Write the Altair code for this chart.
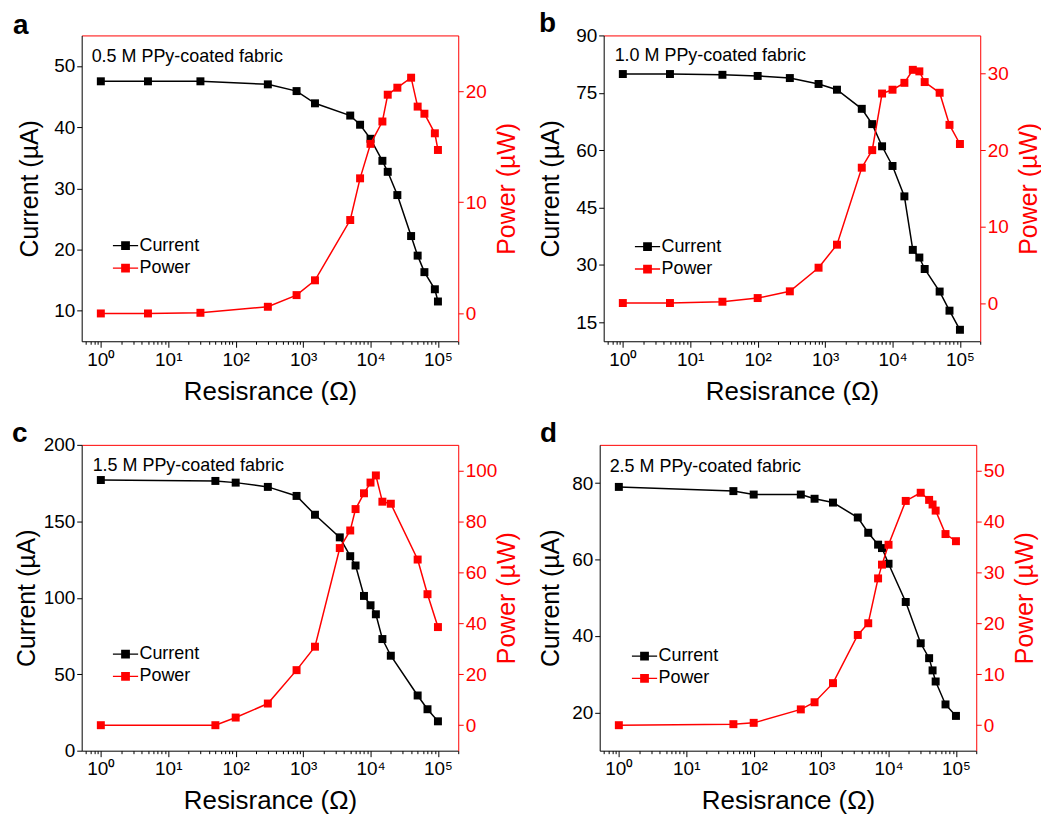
import altair as alt
import pandas as pd

RED = "#ff0000"
FONT = "Liberation Sans"
SERIES = ["Current", "Power"]
COLORS = ["#000000", RED]
X_DOMAIN = [0.52, 200000]

# ---------------- data ----------------
res_a = [1, 5, 30, 300, 800, 1500, 5000, 7000, 10000, 15000, 18000, 25000, 40000, 50000, 63000, 90000, 100000]
cur_a = [47.5, 47.5, 47.5, 47.0, 45.9, 43.9, 41.9, 40.4, 38.1, 34.5, 32.7, 28.9, 22.2, 19.0, 16.3, 13.5, 11.5]
pow_a = [0.0, 0.0, 0.06, 0.6, 1.65, 2.98, 8.4, 12.15, 15.25, 17.26, 19.67, 20.3, 21.2, 18.6, 17.96, 16.2, 14.7]

res_b = [1, 5, 30, 100, 300, 800, 1500, 3500, 5000, 7000, 10000, 15000, 20000, 25000, 30000, 50000, 70000, 100000]
cur_b = [79.9, 79.9, 79.7, 79.4, 78.85, 77.3, 75.8, 70.8, 66.8, 61.0, 55.85, 47.9, 33.9, 31.9, 28.9, 23.0, 18.0, 13.0]
pow_b = [0.0, 0.0, 0.17, 0.65, 1.53, 4.62, 7.63, 17.7, 20.0, 27.4, 27.9, 28.8, 30.5, 30.3, 28.9, 27.5, 23.3, 20.8]

res_c = [1, 50, 100, 300, 800, 1500, 3500, 5000, 6000, 8000, 10000, 12000, 15000, 20000, 50000, 70000, 100000]
cur_c = [177.0, 176.4, 175.3, 172.5, 166.6, 154.3, 139.5, 127.2, 121.1, 101.2, 95.1, 89.2, 73.0, 62.1, 36.1, 27.1, 19.2]
pow_c = [0.0, 0.0, 3.0, 8.5, 21.6, 30.8, 69.5, 76.4, 84.8, 91.0, 95.2, 98.0, 87.7, 86.9, 65.0, 51.4, 38.5]

res_d = [1, 50, 100, 500, 800, 1500, 3500, 5000, 7000, 8000, 10000, 18000, 30000, 40000, 45000, 50000, 70000, 100000]
cur_d = [79.0, 77.9, 77.0, 77.0, 75.9, 74.9, 71.0, 67.0, 63.9, 63.0, 58.9, 48.9, 38.1, 34.2, 31.0, 28.1, 22.1, 19.1]
pow_d = [0.0, 0.2, 0.46, 3.1, 4.5, 8.25, 17.7, 20.0, 28.8, 31.5, 35.4, 44.0, 45.6, 44.2, 43.3, 42.1, 37.5, 36.1]

panel_letters = ["a", "b", "c", "d"]
panel_labels = ["0.5 M PPy-coated fabric", "1.0 M PPy-coated fabric",
                "1.5 M PPy-coated fabric", "2.5 M PPy-coated fabric"]

cur_domains = [[5, 55], [10, 90], [0, 200], [10, 90]]
cur_ticks = [[10, 20, 30, 40, 50], [15, 30, 45, 60, 75, 90], [0, 50, 100, 150, 200], [20, 40, 60, 80]]
pow_domains = [[-2.5, 25], [-5, 35], [-10, 110], [-5, 55]]
pow_ticks = [[0, 10, 20], [0, 10, 20, 30], [0, 20, 40, 60, 80, 100], [0, 10, 20, 30, 40, 50]]

x_major = [1, 10, 100, 1000, 10000, 100000]
x_minor = [m * 10 ** k for k in range(-1, 6) for m in range(2, 10)]
x_ticks = sorted([v for v in x_major + x_minor if X_DOMAIN[0] <= v <= X_DOMAIN[1]])

W, H = 378, 307

# layout tweaks per panel: (letter x, letter y, ytitle x, legend x, legend y, label x, label y)
lay = [
    (-69, -1, -52, 33, 200, 10, 22),
    (-65, -3, -53, 33, 201, 11, 21),
    (-70, -3, -55, 33, 199, 11, 21),
    (-60, -3, -49, 34, 201, 10, 22),
]

SYMBOL = ("M-1.15,-0.06H-0.4V0.06H-1.15Z "
          "M0.4,-0.06H1.15V0.06H0.4Z "
          "M-0.4,-0.4H0.4V0.4H-0.4Z")

is_major = "abs(log(datum.value)/LN10 - round(log(datum.value)/LN10)) < 0.001"
label_expr = (is_major + " ? '10' + ['⁰','¹','²','³','⁴','⁵'][round(log(datum.value)/LN10)] : ''")


def panel(i, R, I, P):
    lx, ly, ytx, lgx, lgy, tx, ty = lay[i]
    df = pd.DataFrame({"R": R, "Current": I, "Power": P})
    long = df.melt("R", var_name="series", value_name="v")

    xs = alt.Scale(type="log", domain=X_DOMAIN, nice=False)
    bottom_axis = alt.Axis(
        orient="bottom", values=x_ticks, labelExpr=label_expr, labelOverlap=False,
        labelFlush=False, labelPadding=3, labelFontSize=19,
        tickSize={"condition": {"test": is_major, "value": 6}, "value": 3},
        title="Resisrance (Ω)", titleFontSize=26, titleY=50, titleBaseline="middle",
        domainColor="black", tickColor="black", labelColor="black",
    )
    top_axis = alt.Axis(orient="top", labels=False, ticks=False, title=None,
                        domainColor=RED)
    left_axis = alt.Axis(orient="left", values=cur_ticks[i], tickSize=5,
                         title="Current (µA)", titleX=ytx, titleY=H / 2,
                         titleAngle=270, titleBaseline="middle",
                         domainColor="black", tickColor="black", labelColor="black",
                         titleColor="black")
    right_axis = alt.Axis(orient="right", values=pow_ticks[i], tickSize=5,
                          title="Power (µW)", titleX=48, titleY=H / 2,
                          titleAngle=270, titleBaseline="middle",
                          domainColor=RED, tickColor=RED, labelColor=RED,
                          titleColor=RED)

    legend = alt.Legend(orient="none", legendX=lgx, legendY=lgy, title=None,
                        symbolType=SYMBOL, symbolSize=484, symbolStrokeWidth=0,
                        labelFontSize=18, labelOffset=3, rowPadding=2.5, padding=0)
    fill = alt.Fill("series:N", scale=alt.Scale(domain=SERIES, range=COLORS), legend=legend)
    stroke = alt.Stroke("series:N", scale=alt.Scale(domain=SERIES, range=COLORS), legend=legend)

    base_i = alt.Chart(long).transform_filter(alt.datum.series == "Current")
    base_p = alt.Chart(long).transform_filter(alt.datum.series == "Power")

    y_i = alt.Y("v:Q", scale=alt.Scale(domain=cur_domains[i], nice=False, zero=False), axis=left_axis)
    y_p = alt.Y("v:Q", scale=alt.Scale(domain=pow_domains[i], nice=False, zero=False), axis=right_axis)
    xb = alt.X("R:Q", scale=xs, axis=bottom_axis)
    xt = alt.X("R:Q", scale=xs, axis=top_axis)

    left = alt.layer(
        base_i.mark_line(strokeWidth=1.5).encode(x=xb, y=y_i, stroke=stroke),
        base_i.mark_point(shape="square", filled=True, size=64, opacity=1, strokeWidth=0)
        .encode(x=xb, y=y_i, fill=fill),
    )
    right = alt.layer(
        base_p.mark_line(strokeWidth=1.5).encode(x=xt, y=y_p, stroke=stroke),
        base_p.mark_point(shape="square", filled=True, size=64, opacity=1, strokeWidth=0)
        .encode(x=xt, y=y_p, fill=fill),
    )
    label_df = pd.DataFrame({"t": [panel_labels[i]]})
    anno = alt.Chart(label_df).mark_text(
        align="left", baseline="middle", fontSize=18, font=FONT, color="black"
    ).encode(x=alt.value(tx), y=alt.value(ty), text="t:N")
    letter_df = pd.DataFrame({"t": [panel_letters[i]]})
    letter = alt.Chart(letter_df).mark_text(
        align="left", baseline="alphabetic", fontSize=28, fontWeight="bold",
        font=FONT, color="black"
    ).encode(x=alt.value(lx), y=alt.value(ly), text="t:N")

    return (
        alt.layer(left, right, anno, letter)
        .resolve_scale(y="independent")
        .resolve_axis(x="independent")
        .properties(width=W, height=H)
    )


pa = panel(0, res_a, cur_a, pow_a)
pb = panel(1, res_b, cur_b, pow_b)
pc = panel(2, res_c, cur_c, pow_c)
pd_ = panel(3, res_d, cur_d, pow_d)

row1 = alt.hconcat(pa, pb, spacing=20).resolve_scale(fill="independent", stroke="independent")
row2 = alt.hconcat(pc, pd_, spacing=20).resolve_scale(fill="independent", stroke="independent")

chart = (
    alt.vconcat(row1, row2, spacing=16)
    .resolve_scale(fill="independent", stroke="independent")
    .properties(padding={"left": 12, "top": 9, "right": 0, "bottom": 0}, background="white")
    .configure_axis(labelFont=FONT, titleFont=FONT, labelFontSize=19, titleFontSize=25,
                    titleFontWeight="normal", grid=False, domainWidth=1, tickWidth=1)
    .configure_legend(labelFont=FONT, labelFontSize=18)
    .configure_view(strokeWidth=0)
)

chart.save("out.html", embed_options={"renderer": "svg", "actions": False})
